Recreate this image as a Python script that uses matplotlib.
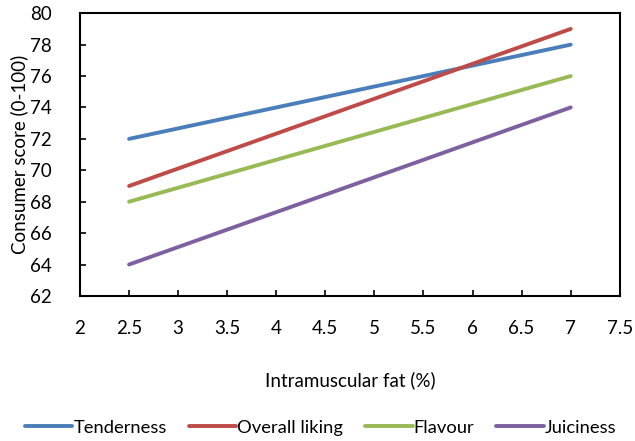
import matplotlib
matplotlib.use("Agg")
import matplotlib.pyplot as plt

plt.rcParams['font.family'] = ['Lato', 'DejaVu Sans']

fat = [2.5, 7]
tenderness = [72, 78]
overall = [69, 79]
flavour = [68, 76]
juiciness = [64, 74]

fig = plt.figure(figsize=(6.35, 4.41), dpi=100)
ax = fig.add_axes([0.126, 0.329, 0.850, 0.641])

ax.plot(fat, tenderness, color='#4A7EBB', lw=2.8, label='Tenderness', solid_capstyle='round')
ax.plot(fat, overall, color='#BE4B48', lw=2.8, label='Overall liking', solid_capstyle='round')
ax.plot(fat, flavour, color='#98B954', lw=2.8, label='Flavour', solid_capstyle='round')
ax.plot(fat, juiciness, color='#7D60A0', lw=2.8, label='Juiciness', solid_capstyle='round')

ax.set_xlim(2, 7.5)
ax.set_ylim(62, 80)
ax.set_xticks([2, 2.5, 3, 3.5, 4, 4.5, 5, 5.5, 6, 6.5, 7, 7.5])
ax.set_xticklabels(['2', '2.5', '3', '3.5', '4', '4.5', '5', '5.5', '6', '6.5', '7', '7.5'])
ax.set_yticks(range(62, 81, 2))
ax.tick_params(direction='in', length=4, width=1.2, labelsize=13.5)
ax.tick_params(axis='x', pad=17)
ax.tick_params(axis='y', pad=20)
for s in ax.spines.values():
    s.set_linewidth(1.5)

ax.set_xlabel('Intramuscular fat (%)', fontsize=13.5, labelpad=25)
ax.set_ylabel('Consumer score (0-100)', fontsize=13.5, labelpad=2)

fig.legend(loc='lower center', bbox_to_anchor=(0.505, -0.025), ncol=4, frameon=False,
           fontsize=13.2, handlelength=2.6, handletextpad=0.05, columnspacing=1.2)

fig.savefig('out.png', dpi=100)
